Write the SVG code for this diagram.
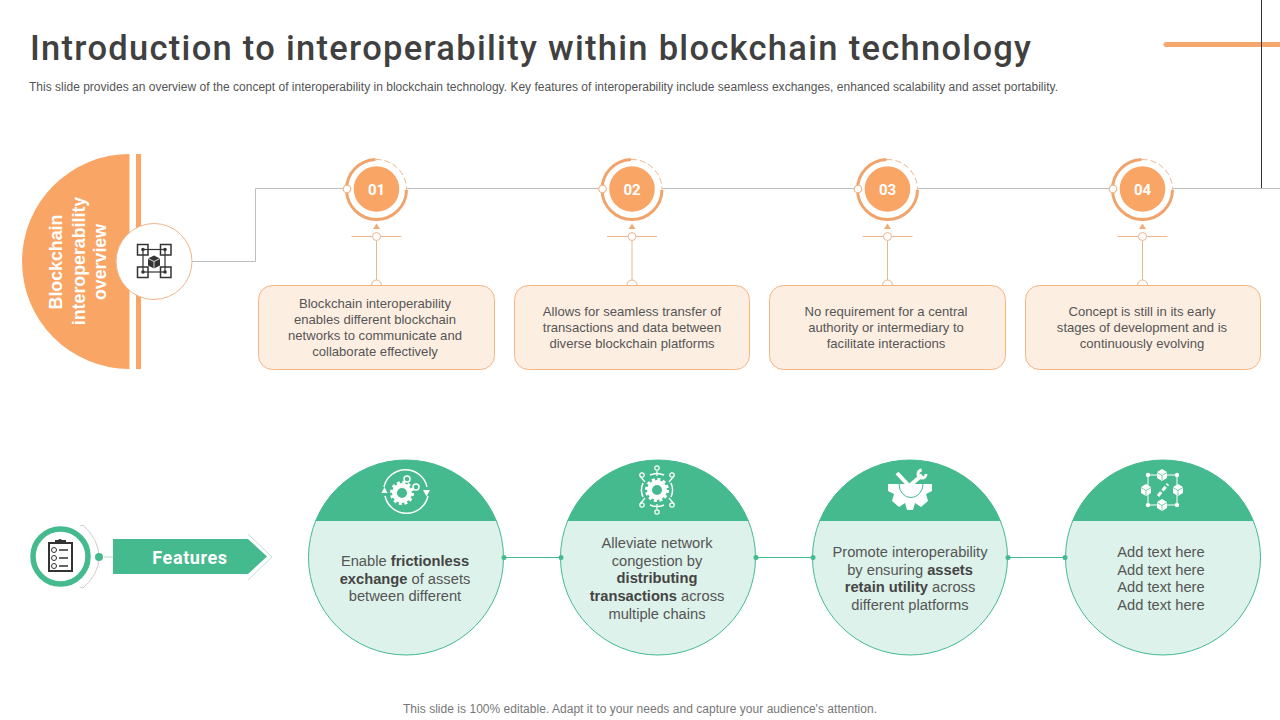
<svg xmlns="http://www.w3.org/2000/svg" width="1280" height="720" viewBox="0 0 1280 720">
<style>
text{font-family:"Liberation Sans",Arial,sans-serif}
.title{font-family:Roboto,"Liberation Sans",sans-serif;font-size:34.500px;font-weight:500;fill:#404040}
.sub{font-size:12px;fill:#555}
.b{font-size:13.100px;fill:#555;text-anchor:middle}
.c{font-size:14.700px;fill:#555;text-anchor:middle}
.c .s{font-weight:700;fill:#444}
.num{font-family:Roboto,sans-serif;font-size:15px;font-weight:700;fill:#fff;text-anchor:middle}
.ov{font-size:17.800px;font-weight:700;fill:#fff;text-anchor:middle}
.box{fill:#fdeee2;stroke:#f5b583;stroke-width:1}
.circ{fill:#ddf2ea;stroke:#45ba8e;stroke-width:1}
.line{stroke:#bdbdbd;stroke-width:1;fill:none}
.oline{stroke:#eeb68c;stroke-width:1;fill:none}
.gl{stroke:#45ba8e;stroke-width:1.200;fill:none}
.wf{fill:#fff}
.wl{fill:none;stroke:#fff;stroke-width:1.500}
.k{fill:none;stroke:#333;stroke-width:1.500}
</style>
<defs>
<g id="badge">
<path d="M-1 -29.500A30 30 0 1 0 30 1" fill="none" stroke="#f0a46c" stroke-width="3"/>
<path d="M-1 -29.500A30 30 0 0 1 30 1" fill="none" stroke="#eeb68c" stroke-width="1" stroke-dasharray="6 3"/>
<circle r="22.800" fill="#f8a566"/>
<path d="M0 34.500L-3.500 40H3.500Z" fill="#f3aa75"/>
<path class="oline" d="M-25 47.500H25M0 52V92"/>
<circle cy="47.500" r="4" fill="#fff" stroke="#eeb68c"/>
<path d="M-5 96A5 5 0 0 1 5 96" fill="#fff" stroke="#eeb68c"/>
<circle cx="-29.500" r="3.800" fill="#fff" stroke="#eeb68c" stroke-width="1.200"/>
</g>
<marker id="arr" markerWidth="8" markerHeight="8" refX="7" refY="4" orient="auto"><path d="M1 1L7 4L1 7" fill="none" stroke="#a9d8c4" stroke-width="1"/></marker>
<clipPath id="c1"><rect x="300" y="455" width="970" height="66"/></clipPath>
</defs>

<g id="header">
<text class="title" x="30" y="60" textLength="1001" lengthAdjust="spacing">Introduction to interoperability within blockchain technology</text>
<text class="sub" x="29" y="91" textLength="1029" lengthAdjust="spacing">This slide provides an overview of the concept of interoperability in blockchain technology. Key features of interoperability include seamless exchanges, enhanced scalability and asset portability.</text>
<path d="M1166 44.500H1280" stroke="#f4a76f" stroke-width="5" stroke-linecap="round"/>
<path d="M1261.500 0V188" stroke="#333" stroke-width="1"/>
</g>

<g id="overview">
<path d="M129.500 154A107.500 107.500 0 0 0 129.500 369Z" fill="#f8a566"/>
<rect x="136" y="154" width="5" height="215" fill="#f8a566"/>
<text class="ov" transform="translate(62 262) rotate(-90)">Blockchain</text>
<text class="ov" transform="translate(85 261) rotate(-90)">interoperability</text>
<text class="ov" transform="translate(106 262) rotate(-90)">overview</text>
<circle cx="154" cy="261.500" r="38" fill="#fff" stroke="#eeb68c"/>
<g class="k">
<rect x="137.500" y="244.500" width="10.500" height="10.500"/><rect x="160.500" y="244.500" width="10.500" height="10.500"/><rect x="137.500" y="267" width="10.500" height="10.500"/><rect x="160.500" y="267" width="10.500" height="10.500"/>
<rect x="143" y="249.500" width="22" height="22.500" stroke-width="1.200"/>
</g>
<g fill="#333"><circle cx="143" cy="249.500" r="1.800"/><circle cx="165" cy="249.500" r="1.800"/><circle cx="143" cy="272" r="1.800"/><circle cx="165" cy="272" r="1.800"/><path d="M154 255.500l6 3v7l-6 3-6-3v-7z"/></g>
<path d="M148 258.500l6 3 6-3M154 261.500v7" fill="none" stroke="#fff" stroke-width=".8"/>
</g>

<g id="step1"><use href="#badge" x="376.500" y="189"/><text class="num" x="376.500" y="194.500">01</text>
<rect class="box" x="258.500" y="285.500" width="236" height="84" rx="14"/>
<text class="b"><tspan x="375" y="308">Blockchain interoperability</tspan><tspan x="375" y="324">enables different  blockchain</tspan><tspan x="375" y="340">networks to communicate and</tspan><tspan x="375" y="356">collaborate effectively</tspan></text></g>
<g id="step2"><use href="#badge" x="632" y="189"/><text class="num" x="632" y="194.500">02</text>
<rect class="box" x="514.500" y="285.500" width="235" height="84" rx="14"/>
<text class="b"><tspan x="632" y="316">Allows for seamless transfer of</tspan><tspan x="632" y="332">transactions and data between</tspan><tspan x="632" y="348">diverse  blockchain platforms</tspan></text></g>
<g id="step3"><use href="#badge" x="887.500" y="189"/><text class="num" x="887.500" y="194.500">03</text>
<rect class="box" x="769.500" y="285.500" width="236" height="84" rx="14"/>
<text class="b"><tspan x="886" y="316">No requirement for a central</tspan><tspan x="886" y="332">authority or intermediary to</tspan><tspan x="886" y="348">facilitate interactions</tspan></text></g>
<g id="step4"><use href="#badge" x="1142.500" y="189"/><text class="num" x="1142.500" y="194.500">04</text>
<rect class="box" x="1025.500" y="285.500" width="235" height="84" rx="14"/>
<text class="b"><tspan x="1142" y="316">Concept is still in its early</tspan><tspan x="1142" y="332">stages of development  and is</tspan><tspan x="1142" y="348">continuously evolving</tspan></text></g>

<g id="features">
<circle cx="60.500" cy="556.500" r="27.500" fill="#fff" stroke="#45ba8e" stroke-width="5.500"/>
<path d="M80 526L83 525Q99 540 99 557Q99 574 83 588L80 587" fill="none" stroke="#d8c9c4" stroke-width="1"/>
<circle cx="99" cy="557" r="4" fill="#45ba8e"/>
<path d="M104 557H131" stroke="#bfd8cc" stroke-width="1" marker-end="url(#arr)"/>
<rect x="49" y="543" width="23" height="28" fill="#fff" stroke="#333" stroke-width="2"/>
<path d="M55 543V540H58Q60 538 62 540H66V543" fill="#333"/>
<g fill="none" stroke="#333" stroke-width="1"><circle cx="54" cy="550" r="2.500"/><circle cx="54" cy="558" r="2.500"/><circle cx="54" cy="566" r="2.500"/></g>
<path d="M59 550H68M59 558H68M59 566H68" stroke="#333" stroke-width="1.500"/>
<path d="M113 539H248L267 556.500L248 574H113Z" fill="#45ba8e"/>
<path d="M248 534L272 557L248 580" fill="none" stroke="#bfe0d3" stroke-width="1"/>
<text x="190" y="564" text-anchor="middle" style="font-family:Roboto,sans-serif;font-size:18px;font-weight:700;fill:#fff;letter-spacing:.6px">Features</text>
</g>

<g id="feature1"><circle class="circ" cx="406" cy="557.500" r="97.500"/>
<circle cx="406" cy="557.500" r="97.500" fill="#45ba8e" clip-path="url(#c1)"/>
<path class="wl" d="M384 487A22 22 0 0 1 427 487M428 496A22 22 0 0 1 385 496"/>
<circle cx="402" cy="493" r="7.500" fill="none" stroke="#fff" stroke-width="5"/><circle cx="402" cy="493" r="10.500" fill="none" stroke="#fff" stroke-width="3" stroke-dasharray="3 2.500"/>
<circle cx="407" cy="479" r="3" fill="none" stroke="#fff" stroke-width="1.500"/><circle cx="416" cy="487" r="3" fill="none" stroke="#fff" stroke-width="1.500"/>
<path class="wf" d="M381.500 493l3-6 3 6zM423 490l3.500 6.500 3.500-6.500z"/>
<text class="c"><tspan x="405" y="566">Enable </tspan><tspan class="s">frictionless</tspan><tspan class="s" x="405" y="584">exchange </tspan><tspan>of assets</tspan><tspan x="405" y="601">between different</tspan></text></g>

<g id="feature2"><circle class="circ" cx="658" cy="557.500" r="97.500"/>
<circle cx="658" cy="557.500" r="97.500" fill="#45ba8e" clip-path="url(#c1)"/>
<circle cx="657" cy="490" r="7.500" fill="none" stroke="#fff" stroke-width="5"/><circle cx="657" cy="490" r="10.500" fill="none" stroke="#fff" stroke-width="3" stroke-dasharray="3 2.500"/>
<path class="wl" d="M643 483A17 17 0 0 0 643 497M671 483A17 17 0 0 1 671 497M650 475A17 17 0 0 1 664 475M650 505A17 17 0 0 0 664 505"/>
<path d="M657 476V471M657 504V509M645 482L640 476M669 482L674 476M645 498L640 504M669 498L674 504" stroke="#fff" stroke-width="1.200"/>
<g fill="none" stroke="#fff" stroke-width="1.200"><circle cx="657" cy="468" r="2.200"/><circle cx="657" cy="512" r="2.200"/><circle cx="642" cy="475" r="2.200"/><circle cx="672" cy="475" r="2.200"/><circle cx="642" cy="505" r="2.200"/><circle cx="672" cy="505" r="2.200"/></g>
<text class="c"><tspan x="657" y="548">Alleviate  network</tspan><tspan x="657" y="566">congestion by</tspan><tspan class="s" x="657" y="583">distributing</tspan><tspan class="s" x="657" y="601">transactions </tspan><tspan>across</tspan><tspan x="657" y="619">multiple chains</tspan></text></g>

<g id="feature3"><circle class="circ" cx="910" cy="557.500" r="97.500"/>
<circle cx="910" cy="557.500" r="97.500" fill="#45ba8e" clip-path="url(#c1)"/>
<path d="M897 473L912 489M922 475L906 489" stroke="#fff" stroke-width="4"/>
<circle cx="922" cy="474" r="4" fill="none" stroke="#fff" stroke-width="3" stroke-dasharray="18 7"/>
<path class="wf" d="M888 484H932V491L926 494L928 501L921 507L915 503L913 510H907L905 503L899 507L892 501L894 494L888 491Z"/>
<path d="M899 484A11.500 13 0 0 0 923 484" fill="none" stroke="#45ba8e" stroke-width="1"/>
<text class="c"><tspan x="910" y="557">Promote interoperability</tspan><tspan x="910" y="575">by ensuring </tspan><tspan class="s">assets</tspan><tspan class="s" x="910" y="592">retain utility </tspan><tspan>across</tspan><tspan x="910" y="610">different platforms</tspan></text></g>

<g id="feature4"><circle class="circ" cx="1163" cy="557.500" r="97.500"/>
<circle cx="1163" cy="557.500" r="97.500" fill="#45ba8e" clip-path="url(#c1)"/>
<path d="M1148 475H1177V505H1148Z" fill="none" stroke="#fff" stroke-width="1"/>
<g class="wf"><circle cx="1148" cy="475" r="2.200"/><circle cx="1177" cy="475" r="2.200"/><circle cx="1148" cy="505" r="2.200"/><circle cx="1177" cy="505" r="2.200"/>
<path d="M1162 469l5 3v6l-5 3-5-3v-6zM1162 499l5 3v6l-5 3-5-3v-6zM1146 484l5 3v6l-5 3-5-3v-6zM1178 484l5 3v6l-5 3-5-3v-6z"/></g>
<path d="M1157 472.500l5 3 5-3M1162 475.500v5M1157 502.500l5 3 5-3M1162 505.500v5M1141 487.500l5 3 5-3M1146 490.500v5M1173 487.500l5 3 5-3M1178 490.500v5" fill="none" stroke="#45ba8e" stroke-width=".7"/>
<path d="M1158 496L1168 484" stroke="#fff" stroke-width="3" stroke-dasharray="5 2"/>
<text class="c"><tspan x="1161" y="557">Add text here</tspan><tspan x="1161" y="575">Add text here</tspan><tspan x="1161" y="592">Add text here</tspan><tspan x="1161" y="610">Add text here</tspan></text></g>

<text id="footer" x="640" y="713" text-anchor="middle" textLength="474" style="font-size:12px;fill:#777">This slide is 100% editable. Adapt it to your needs and capture your audience's attention.</text>

<g id="connectors">
<path class="line" d="M192 261.500H255.500V188.500H343M407 188.500H598.500M662.500 188.500H854M918 188.500H1109M1173 188.500H1280"/>
<path class="gl" d="M504 557.500H561M756 557.500H813M1008 557.500H1065"/>
<g fill="#45ba8e"><circle cx="504" cy="557.500" r="2.500"/><circle cx="561" cy="557.500" r="2.500"/><circle cx="756" cy="557.500" r="2.500"/><circle cx="813" cy="557.500" r="2.500"/><circle cx="1008" cy="557.500" r="2.500"/><circle cx="1065" cy="557.500" r="2.500"/></g>
</g>
</svg>
